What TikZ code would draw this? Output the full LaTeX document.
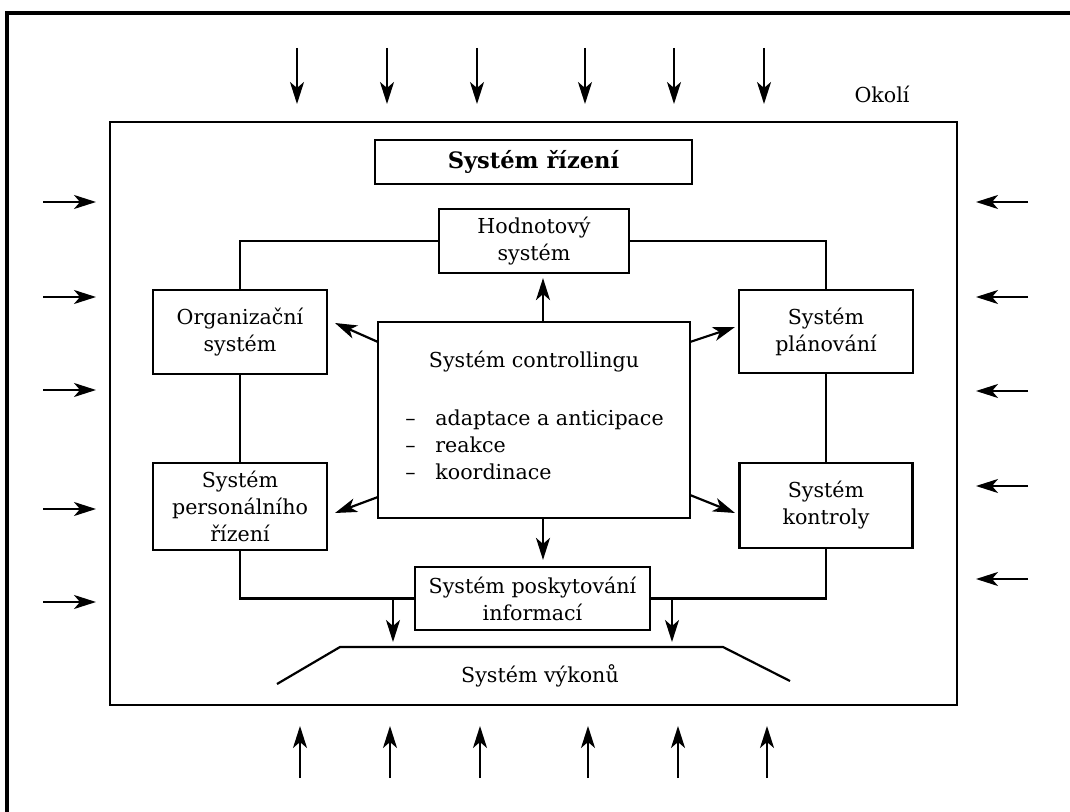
\documentclass[tikz,border=0pt]{standalone}
\usepackage{fontspec}
\setmainfont{DejaVu Serif}
\usetikzlibrary{arrows.meta,calc}
\begin{document}
\begin{tikzpicture}[x=0.5pt,y=-0.5pt,
  box/.style={draw,line width=1.1pt,rectangle,inner sep=0pt,align=center,
    font=\fontsize{10.3}{13.5}\selectfont},
  conn/.style={line width=1.1pt},
  arr/.style={line width=1.1pt,-{Stealth[length=11pt,width=7pt,inset=3pt]}},
  txt/.style={font=\fontsize{10.3}{13.5}\selectfont,inner sep=0pt}]
\useasboundingbox (0,0) rectangle (1070,812);
\fill[white] (0,0) rectangle (1070,812);
% outer page frame
\draw[line width=1.6pt] (1070,13) -- (7,13) -- (7,812);
% big system box
\draw[line width=1.1pt] (110,122) rectangle (957,705);
% nodes
\node[box,minimum width=158.5pt,minimum height=22pt,font=\fontsize{11.3}{13.5}\selectfont\bfseries] (riz) at (533.5,162) {Systém řízení};
\node[box,minimum width=95pt,minimum height=32pt] (hod) at (534,241) {Hodnotový\\systém};
\node[box,minimum width=87pt,minimum height=42pt] (org) at (240,332) {Organizační\\systém};
\node[box,minimum width=87pt,minimum height=43.5pt] (pers) at (240,506.5) {Systém\\personálního\\řízení};
\node[box,minimum width=87pt,minimum height=41.5pt] (plan) at (826,331.5) {Systém\\plánování};
\node[box,minimum width=86.5pt,minimum height=42.5pt] (kon) at (826,505.5) {Systém\\kontroly};
\node[box,minimum width=156pt,minimum height=98pt] (ctrl) at (534,420) {};
\node[box,minimum width=117.5pt,minimum height=31.5pt] (posk) at (532.5,598.5) {Systém poskytování\\informací};
\node[txt] (ctitle) at (534,362) {Systém controllingu};
\node[txt,anchor=west,align=left] (clist) at (405,445) {\makebox[15pt][l]{–}adaptace a anticipace\\\makebox[15pt][l]{–}reakce\\\makebox[15pt][l]{–}koordinace};
\node[txt] (okoli) at (882,94) {Okolí};
% connectors between boxes
\draw[conn] (hod.west) -| (org.north);
\draw[conn] (hod.east) -| (plan.north);
\draw[conn] (org.south) -- (pers.north);
\draw[conn] (plan.south) -- (kon.north);
\draw[conn] (pers.south) |- (posk.west);
\draw[conn] (kon.south) |- (posk.east);
% výkony
\coordinate (v1) at (277,684);
\coordinate (v2) at (340,647);
\coordinate (v3) at (723,647);
\coordinate (v4) at (790,681);
\draw[conn] (v1) -- (v2) -- (v3) -- (v4);
\node[txt] (vyk) at (540,676) {Systém výkonů};
% arrows from the info line to výkony
\coordinate (d1) at (393,598.5);
\coordinate (d2) at (672,598.5);
\draw[arr] (d1) -- ($(d1 |- v2)+(0,-5)$);
\draw[arr] (d2) -- ($(d2 |- v3)+(0,-5)$);
% arrows from controlling
\coordinate (cu) at (543,322);
\coordinate (cd) at (543,518);
\draw[arr] (cu) -- ($(cu |- hod.south)+(0,4)$);
\draw[arr] (cd) -- ($(cd |- posk.north)+(0,-6)$);
\coordinate (co1) at (378,342);
\coordinate (co2) at (335,323);
\coordinate (cp1) at (378,497);
\coordinate (cp2) at (335,513);
\coordinate (cl1) at (690,342);
\coordinate (cl2) at (735,327);
\coordinate (ck1) at (690,495);
\coordinate (ck2) at (735,513);
\draw[arr] (co1) -- (co2);
\draw[arr] (cp1) -- (cp2);
\draw[arr] (cl1) -- (cl2);
\draw[arr] (ck1) -- (ck2);
% environment arrows
\foreach \x [count=\i] in {297,387,477,585,674,764}{
  \coordinate (ts\i) at (\x,48); \coordinate (te\i) at (\x,104);
  \draw[arr] (ts\i) -- (te\i);}
\foreach \x [count=\i] in {300,390,480,588,678,767}{
  \coordinate (bs\i) at (\x,778); \coordinate (be\i) at (\x,726);
  \draw[arr] (bs\i) -- (be\i);}
\foreach \y [count=\i] in {202,297,390,509,602}{
  \coordinate (ls\i) at (43,\y); \coordinate (le\i) at (96,\y);
  \draw[arr] (ls\i) -- (le\i);}
\foreach \y [count=\i] in {202,297,391,486,579}{
  \coordinate (rs\i) at (1028,\y); \coordinate (re\i) at (976,\y);
  \draw[arr] (rs\i) -- (re\i);}
\end{tikzpicture}
\end{document}
